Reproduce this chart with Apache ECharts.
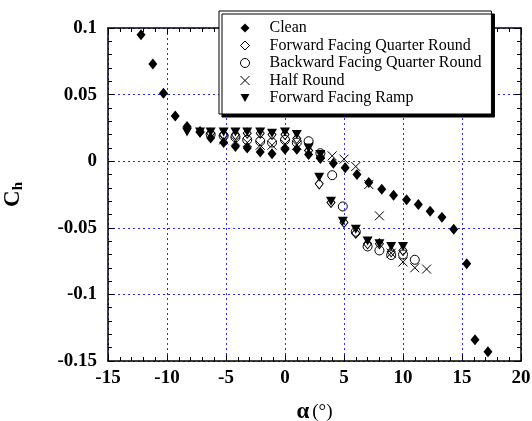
<!DOCTYPE html>
<html>
<head>
<meta charset="utf-8">
<script src="https://cdn.jsdelivr.net/npm/echarts@6/dist/echarts.min.js"></script>
<style>
  html, body { margin: 0; padding: 0; background: #fff; }
  #chart { width: 532px; height: 421px; }
</style>
</head>
<body>
<div id="chart"></div>
<script>
// 数据
const seriesNames = ['Clean', 'Forward Facing Quarter Round', 'Backward Facing Quarter Round', 'Half Round', 'Forward Facing Ramp']

const clean = [
  [-12.2, 0.095], [-11.2, 0.073], [-10.3, 0.051], [-9.3, 0.034], [-8.3, 0.026], [-7.2, 0.022],
  [-6.3, 0.0175], [-5.2, 0.014], [-4.2, 0.011], [-3.2, 0.010], [-2.1, 0.007], [-1.1, 0.0055],
  [0, 0.009], [1, 0.009], [2, 0.005], [3, 0.002], [4.1, -0.0015], [5.1, -0.005], [6.1, -0.010],
  [7.1, -0.016], [8.2, -0.021], [9.2, -0.0255], [10.3, -0.029], [11.3, -0.0325], [12.3, -0.0375],
  [13.3, -0.042], [14.3, -0.051], [15.4, -0.077], [16.1, -0.134], [17.2, -0.143]
]

const fwdQuarter = [
  [-7.2, 0.022], [-6.3, 0.021], [-5.2, 0.020], [-4.2, 0.020], [-3.2, 0.021], [-2.1, 0.021],
  [-1.1, 0.020], [0, 0.020], [1, 0.017], [2, 0.008], [3, 0.003], [2.9, -0.017], [3.9, -0.031],
  [5, -0.046], [6, -0.054], [7, -0.062], [8, -0.062], [9, -0.068], [10, -0.067]
]

const bwdQuarter = [
  [-6.3, 0.020], [-5.2, 0.019], [-4.2, 0.018], [-3.2, 0.016], [-2.1, 0.015], [-1.1, 0.014],
  [0, 0.016], [1, 0.014], [2, 0.015], [3, 0.006], [4, -0.0105], [4.9, -0.034], [6, -0.053],
  [7, -0.064], [8, -0.067], [9, -0.0705], [10, -0.070], [11, -0.074]
]

const halfRound = [
  [-5.2, 0.016], [-4.2, 0.015], [-3.2, 0.014], [-2.1, 0.012], [-1.1, 0.012], [0, 0.013],
  [1, 0.012], [2, 0.011], [3, 0.005], [4, 0.004], [5, 0.0015], [6, -0.004], [7.1, -0.0175],
  [8, -0.041], [9, -0.069], [10, -0.0756], [11, -0.080], [12, -0.081]
]

const fwdRamp = [
  [-8.3, 0.022], [-7.2, 0.022], [-6.3, 0.022], [-5.2, 0.022], [-4.2, 0.022], [-3.2, 0.022],
  [-2.1, 0.022], [-1.1, 0.021], [0, 0.022], [1, 0.020], [2, 0.010], [3, 0.005], [2.9, -0.012],
  [3.9, -0.030], [4.9, -0.045], [6, -0.051], [7, -0.060], [8, -0.062], [9, -0.064], [10, -0.064]
]

const xMin = -15, xMax = 20, xStep = 5
const yMin = -0.15, yMax = 0.1, yStep = 0.05

const font = '"Liberation Serif", "Times New Roman", serif'
const gridBlue = '#2b2bf0'

const chart = echarts.init(document.getElementById('chart'))

// 坐标轴公共样式
const tickStyle = {
  axisLine: { show: true, onZero: false, lineStyle: { color: '#000', width: 1.5 } },
  axisTick: { show: true, inside: true, length: 6, lineStyle: { color: '#000', width: 1 } },
  minorTick: { show: true, splitNumber: 5, length: 4, lineStyle: { color: '#000', width: 1 } }
}

const fmtY = v => String(Math.round(v * 100) / 100)

// 符号
const crossPath = 'path://M0,0L10,10M10,0L0,10'
const triDownPath = 'path://M0,0L10,0L5,9Z'
const solid = { color: '#000', opacity: 1 }
const hollow = { color: 'transparent', borderColor: '#000', borderWidth: 1, opacity: 1 }

const markerSeries = (name, data, symbol, size, style) => ({
  name,
  type: 'scatter',
  data,
  symbol,
  symbolSize: size,
  xAxisIndex: 0,
  yAxisIndex: 0,
  itemStyle: style,
  emphasis: { disabled: true }
})

chart.setOption({
  animation: false,
  backgroundColor: '#fff',
  textStyle: { fontFamily: font },
  grid: { left: 108, right: 11, top: 28, bottom: 60, containLabel: false, outerBoundsMode: 'none' },
  legend: {
    orient: 'vertical',
    left: 219,
    top: 11,
    padding: [9, 10, 8, 21],
    itemWidth: 9,
    itemHeight: 9,
    itemGap: 1.5,
    backgroundColor: '#fff',
    borderColor: '#000',
    borderWidth: 1,
    shadowColor: '#000',
    shadowOffsetX: 3,
    shadowOffsetY: 3,
    shadowBlur: 0,
    textStyle: { fontFamily: font, fontSize: 16, color: '#000', lineHeight: 16, padding: [0, 0, 0, 15] },
    data: [
      { name: seriesNames[0], icon: 'diamond', itemStyle: solid },
      { name: seriesNames[1], icon: 'diamond', itemStyle: hollow },
      { name: seriesNames[2], icon: 'circle', itemStyle: hollow },
      { name: seriesNames[3], icon: crossPath, itemStyle: hollow },
      { name: seriesNames[4], icon: triDownPath, itemStyle: solid }
    ]
  },
  xAxis: [
    Object.assign({
      type: 'value', min: xMin, max: xMax, interval: xStep, position: 'bottom',
      name: '{a|α} {b|(°)}',
      nameLocation: 'middle',
      nameGap: 40,
      nameTextStyle: {
        rich: {
          a: { fontFamily: font, fontSize: 23, fontWeight: 'bold', color: '#000' },
          b: { fontFamily: font, fontSize: 19, color: '#000' }
        }
      },
      axisLabel: { fontFamily: font, fontSize: 19, fontWeight: 'bold', color: '#000', margin: 8 },
      splitLine: { show: true, lineStyle: { color: gridBlue, width: 1, type: [2, 3] } }
    }, tickStyle),
    Object.assign({
      type: 'value', min: xMin, max: xMax, interval: xStep, position: 'top',
      axisLabel: { show: false }, splitLine: { show: false }
    }, tickStyle)
  ],
  yAxis: [
    Object.assign({
      type: 'value', min: yMin, max: yMax, interval: yStep, position: 'left',
      name: '{c|C}{h|h}',
      nameLocation: 'middle',
      nameGap: 82,
      nameRotate: 90,
      nameTextStyle: {
        rich: {
          c: { fontFamily: font, fontSize: 23, fontWeight: 'bold', color: '#000' },
          h: { fontFamily: font, fontSize: 15, fontWeight: 'bold', color: '#000', padding: [11, 0, 0, 0] }
        }
      },
      axisLabel: { fontFamily: font, fontSize: 19, fontWeight: 'bold', color: '#000', margin: 11, formatter: fmtY },
      splitLine: { show: true, lineStyle: { color: gridBlue, width: 1, type: [2, 3] } }
    }, tickStyle),
    Object.assign({
      type: 'value', min: yMin, max: yMax, interval: yStep, position: 'right',
      axisLabel: { show: false }, splitLine: { show: false }
    }, tickStyle)
  ],
  series: [
    markerSeries(seriesNames[0], clean, 'diamond', [9, 11], solid),
    markerSeries(seriesNames[1], fwdQuarter, 'diamond', [8, 10], hollow),
    markerSeries(seriesNames[2], bwdQuarter, 'circle', 9, hollow),
    markerSeries(seriesNames[3], halfRound, crossPath, 9, hollow),
    markerSeries(seriesNames[4], fwdRamp, triDownPath, [10, 9], solid)
  ]
})
</script>
</body>
</html>
